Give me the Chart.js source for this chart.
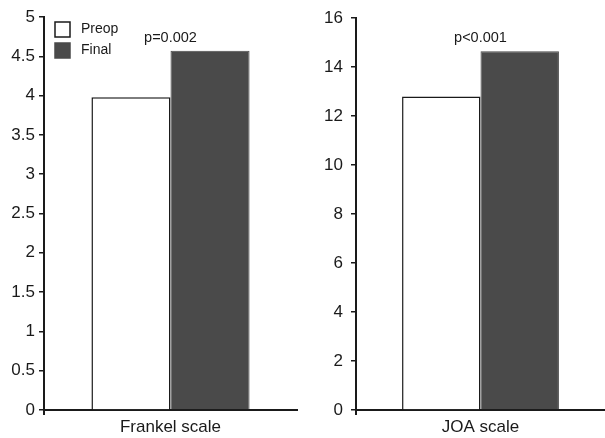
<!DOCTYPE html>
<html><head><meta charset="utf-8">
<script src="https://cdn.jsdelivr.net/npm/chart.js@4.4.0/dist/chart.umd.min.js"></script>
<style>
html,body{margin:0;padding:0;background:#fff;}
#wrap{position:relative;width:605px;height:438px;}
canvas{position:absolute;top:0;}
</style></head><body>
<div id="wrap">
  <canvas id="left" width="300" height="438" style="left:0"></canvas>
  <canvas id="right" width="305" height="438" style="left:300px"></canvas>
</div>
<script>
const seriesNames = ['Preop','Final'];
const frankelCats = ['Frankel scale'];
const frankelPreop = [3.98];
const frankelFinal = [4.57];
const joaCats = ['JOA scale'];
const joaPreop = [12.8];
const joaFinal = [14.65];
const pLabels = ['p=0.002','p<0.001'];
const frankelAxis = {max:5, step:0.5};
const joaAxis = {max:16, step:2};

const INK = '#1a1a1a';
const DARK = '#4a4a4a';
const FONT = "'Liberation Sans', Arial, sans-serif";

const pTextPlugin = {
  id:'pText',
  afterDatasetsDraw(chart){
    const o = chart.options.plugins.pText;
    const ctx = chart.ctx;
    const x = chart.scales.x.getPixelForValue(0);
    const top = chart.scales.y.getPixelForValue(o.value);
    ctx.save();
    ctx.font = '14.5px ' + FONT;
    ctx.fillStyle = INK;
    ctx.textAlign = 'center';
    ctx.textBaseline = 'middle';
    ctx.fillText(o.text, x, top - 13);
    ctx.restore();
  }
};

const boxLegend = {
  id:'boxLegend',
  afterDraw(chart){
    if(!chart.options.plugins.boxLegend.show) return;
    const ctx = chart.ctx;
    const a = chart.chartArea;
    ctx.save();
    ctx.font = '14px ' + FONT;
    ctx.textBaseline = 'middle';
    chart.data.datasets.forEach((ds,i)=>{
      const bx = a.left + 11, by = a.top + 5 + i*21, s = 15;
      ctx.fillStyle = ds.backgroundColor;
      ctx.fillRect(bx, by, s, s);
      ctx.strokeStyle = ds.borderColor;
      ctx.lineWidth = 1.5;
      ctx.strokeRect(bx, by, s, s);
      ctx.fillStyle = INK;
      ctx.fillText(ds.label, bx + 26, by + s/2);
    });
    ctx.restore();
  }
};

function makeChart(id, cats, preop, final, axis, pText, axisW, rightPad, catPct, tickPad, legend){
  return new Chart(document.getElementById(id),{
    type:'bar',
    data:{
      labels:cats,
      datasets:[
        {label:seriesNames[0],data:preop,backgroundColor:'#fff',borderColor:INK,borderWidth:1.5,
         categoryPercentage:catPct,barPercentage:1},
        {label:seriesNames[1],data:final,backgroundColor:DARK,borderColor:DARK,borderWidth:1,
         categoryPercentage:catPct,barPercentage:1}
      ]
    },
    options:{
      responsive:false,animation:false,
      layout:{padding:{top:17,right:rightPad,left:0,bottom:0}},
      plugins:{
        legend:{display:false},tooltip:{enabled:false},
        pText:{text:pText,value:final[0]},
        boxLegend:{show:legend}
      },
      scales:{
        x:{
          grid:{drawOnChartArea:false,tickLength:5,lineWidth:2,
                color:c=>c.index===0?INK:'rgba(0,0,0,0)'},
          border:{color:INK,width:2},
          ticks:{color:INK,font:{family:FONT,size:17},padding:2},
          afterFit:s=>{s.height=28;}
        },
        y:{
          min:0,max:axis.max,
          ticks:{stepSize:axis.step,color:INK,font:{family:FONT,size:17},padding:tickPad,
                 callback:v=>String(v)},
          grid:{drawOnChartArea:false,tickLength:5,lineWidth:1.5,color:INK},
          border:{color:INK,width:2},
          afterFit:s=>{s.width=axisW;}
        }
      }
    },
    plugins:[pTextPlugin,boxLegend]
  });
}

makeChart('left', frankelCats, frankelPreop, frankelFinal, frankelAxis, pLabels[0], 44, 3, 0.625, 4, true);
makeChart('right', joaCats, joaPreop, joaFinal, joaAxis, pLabels[1], 56, 0, 0.63, 8, false);
</script>
</body></html>
